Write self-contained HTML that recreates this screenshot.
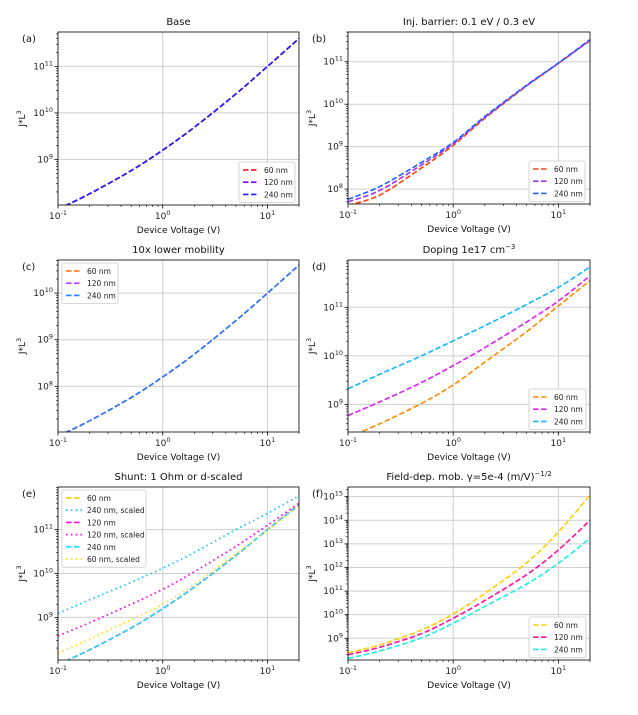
<!DOCTYPE html>
<html><head><meta charset="utf-8"><style>
body{margin:0;background:#fff;}
svg{display:block;font-family:"DejaVu Sans","Liberation Sans",sans-serif;}
</style></head><body>
<svg id="fig" width="638" height="715" viewBox="0 0 638 715" xmlns="http://www.w3.org/2000/svg"></svg>
<script>
const xVals=[0.1,0.2,0.5,1,2,5,10,20];
const seriesLabels3=["60 nm","120 nm","240 nm"];
// log10(J*L^3) per panel
const aSeries=[[7.93,8.26,8.76,9.2,9.69,10.41,11,11.6],[7.93,8.26,8.76,9.2,9.69,10.41,11,11.6],[7.93,8.26,8.76,9.2,9.69,10.41,11,11.6]];
const bSeries=[[7.62,7.86,8.5,9.03,9.67,10.43,10.96,11.5],[7.7,7.97,8.57,9.07,9.69,10.44,10.96,11.51],[7.76,8.06,8.63,9.1,9.71,10.45,10.97,11.52]];
const cSeries=[[6.93,7.26,7.76,8.2,8.69,9.41,10,10.6],[6.93,7.26,7.76,8.2,8.69,9.41,10,10.6],[6.93,7.26,7.76,8.2,8.69,9.41,10,10.6]];
const dSeries=[[8.32,8.6,9.02,9.4,9.87,10.5,11.03,11.55],[8.77,9.05,9.45,9.8,10.17,10.7,11.13,11.65],[9.32,9.62,10.0,10.31,10.62,11.06,11.41,11.83]];
const eLabels=["60 nm","240 nm, scaled","120 nm","120 nm, scaled","240 nm","60 nm, scaled"];
const eSeries=[[7.93,8.26,8.76,9.2,9.69,10.41,11,11.55],[9.09,9.4,9.8,10.12,10.48,11.0,11.37,11.77],[7.93,8.26,8.76,9.2,9.69,10.41,11,11.57],[8.58,8.88,9.3,9.64,10.04,10.62,11.1,11.6],[7.93,8.26,8.76,9.2,9.69,10.41,11,11.56],[8.19,8.5,8.95,9.3,9.75,10.45,10.98,11.55]];
const fSeries=[[8.39,8.72,9.35,10.03,10.9,12.2,13.5,15.07],[8.3,8.62,9.2,9.85,10.6,11.7,12.74,14.0],[8.15,8.46,9.02,9.64,10.35,11.3,12.18,13.24]];

const NS="http://www.w3.org/2000/svg";
const svg=document.getElementById('fig');
function mk(tag,attrs,parent){const e=document.createElementNS(NS,tag);for(const k in attrs)e.setAttribute(k,attrs[k]);(parent||svg).appendChild(e);return e;}

const panels=[
 {id:'a',L:58,R:299,T:32,B:205,ymin:8.02,ymax:11.74,title:'Base',data:aSeries,labels:seriesLabels3,colors:['#ff0000','#8000ff','#2020ff'],styles:['d','d','d'],leg:{x:239,y:162,w:56}},
 {id:'b',L:348,R:590,T:32,B:204,ymin:7.65,ymax:11.70,title:'Inj. barrier: 0.1 eV / 0.3 eV',data:bSeries,labels:seriesLabels3,colors:['#ff4010','#a030ff','#2060ff'],styles:['d','d','d'],leg:{x:529,y:161,w:56}},
 {id:'c',L:58,R:299,T:260,B:432,ymin:7.02,ymax:10.71,title:'10x lower mobility',data:cSeries,labels:seriesLabels3,colors:['#ff7010','#c040ff','#2080ff'],styles:['d','d','d'],leg:{x:62,y:263,w:56}},
 {id:'d',L:348,R:590,T:260,B:432,ymin:8.43,ymax:11.975,title:'Doping 1e17 cm',titleSup:'−3',data:dSeries,labels:seriesLabels3,colors:['#ff8c00','#e020ff','#10b8ff'],styles:['d','d','d'],leg:{x:529,y:389,w:57}},
 {id:'e',L:58,R:299,T:487,B:660,ymin:8.03,ymax:11.97,title:'Shunt: 1 Ohm or d-scaled',data:eSeries,labels:eLabels,colors:['#ffc000','#20c8ff','#ff10e0','#ff10e0','#20d8ff','#ffe020'],styles:['d','o','d','o','d','o'],leg:{x:62,y:490,w:84}},
 {id:'f',L:348,R:590,T:487,B:660,ymin:8.08,ymax:15.41,title:'Field-dep. mob. γ=5e-4 (m/V)',titleSup:'−1/2',data:fSeries,labels:seriesLabels3,colors:['#ffd000','#ff10a0','#20f0e0'],styles:['d','d','d'],leg:{x:529,y:617,w:57}}
];

function smoothPath(pts){
 let d='M'+pts[0][0].toFixed(1)+','+pts[0][1].toFixed(1);
 for(let i=0;i<pts.length-1;i++){
  const p0=pts[Math.max(0,i-1)],p1=pts[i],p2=pts[i+1],p3=pts[Math.min(pts.length-1,i+2)];
  const c1=[p1[0]+(p2[0]-p0[0])/6,p1[1]+(p2[1]-p0[1])/6];
  const c2=[p2[0]-(p3[0]-p1[0])/6,p2[1]-(p3[1]-p1[1])/6];
  d+='C'+c1[0].toFixed(1)+','+c1[1].toFixed(1)+' '+c2[0].toFixed(1)+','+c2[1].toFixed(1)+' '+p2[0].toFixed(1)+','+p2[1].toFixed(1);
 }
 return d;
}

panels.forEach((p,pi)=>{
 const g=mk('g',{});
 
 
 const xs=v=>p.L+(Math.log10(v)+1)/(Math.log10(20)+1)*(p.R-p.L);
 const xl=lv=>p.L+(lv+1)/(Math.log10(20)+1)*(p.R-p.L);
 const ys=lv=>p.B-(lv-p.ymin)/(p.ymax-p.ymin)*(p.B-p.T);
 const cid='clip'+p.id;
 const cp=mk('clipPath',{id:cid},g);mk('rect',{x:p.L,y:p.T,width:p.R-p.L,height:p.B-p.T},cp);
 [-1,0,1].forEach(d=>{const x=xl(d);const l=mk('line',{x1:x,x2:x,y1:p.T,y2:p.B,stroke:'#cfcfcf','stroke-width':1},g);});
 for(let d=Math.ceil(p.ymin);d<=Math.floor(p.ymax);d++){const y=ys(d);const l=mk('line',{x1:p.L,x2:p.R,y1:y,y2:y,stroke:'#cfcfcf','stroke-width':1},g);
  const t=mk('text',{x:p.L-5,y:y+3,'font-size':9,'text-anchor':'end',fill:'#222'},g);
  t.appendChild(document.createTextNode('10'));const s=mk('tspan',{dy:-4,'font-size':6.5},t);s.textContent=String(d);
  mk('line',{x1:p.L-3.5,x2:p.L,y1:y,y2:y,stroke:'#000','stroke-width':0.8},g);
 }
 for(let d=Math.floor(p.ymin);d<=Math.ceil(p.ymax);d++){for(let m=2;m<10;m++){const lv=d+Math.log10(m);if(lv<p.ymin||lv>p.ymax)continue;const y=ys(lv);mk('line',{x1:p.L-2,x2:p.L,y1:y,y2:y,stroke:'#000','stroke-width':0.6},g);}}
 [-1,0,1].forEach(d=>{const x=xl(d);mk('line',{x1:x,x2:x,y1:p.B,y2:p.B+3.5,stroke:'#000','stroke-width':0.8},g);
  const t=mk('text',{x:x,y:p.B+14,'font-size':9,'text-anchor':'middle',fill:'#222'},g);
  t.appendChild(document.createTextNode('10'));const s=mk('tspan',{dy:-4,'font-size':6.5},t);s.textContent=String(d);});
 for(let d=-1;d<=1;d++){for(let m=2;m<10;m++){const lv=d+Math.log10(m);if(lv>Math.log10(20)+1e-9)continue;const x=xl(lv);mk('line',{x1:x,x2:x,y1:p.B,y2:p.B+2,stroke:'#000','stroke-width':0.6},g);}}
 p.data.forEach((ser,si)=>{
  const pts=ser.map((v,i)=>[xs(xVals[i]),ys(v)]);
  const dot=p.styles[si]==='o';
  const path=mk('path',{d:smoothPath(pts),fill:'none',stroke:p.colors[si],'stroke-width':dot?1.8:1.6,'stroke-dasharray':dot?'1.6,3.2':'5.5,2.5','clip-path':'url(#'+cid+')'},g);
  
  
 });
 const fr=mk('rect',{x:p.L,y:p.T,width:p.R-p.L,height:p.B-p.T,fill:'none',stroke:'#000','stroke-width':0.8},g);
 
 const tt=mk('text',{x:(p.L+p.R)/2,y:p.T-7,'font-size':10,'text-anchor':'middle',fill:'#111'},g);
 
 tt.appendChild(document.createTextNode(p.title));
 if(p.titleSup){const s=mk('tspan',{dy:-4,'font-size':7},tt);s.textContent=p.titleSup;}
 const pl=mk('text',{x:p.L-36,y:p.T+10,'font-size':10,fill:'#111'},g);
 pl.textContent='('+p.id+')';
 const xlb=mk('text',{x:(p.L+p.R)/2,y:p.B+28,'font-size':9,'text-anchor':'middle',fill:'#111'},g);
 xlb.textContent='Device Voltage (V)';
 const yc=(p.T+p.B)/2;
 const ylb=mk('text',{x:p.L-33,y:yc,'font-size':9,'text-anchor':'middle',fill:'#111',transform:'rotate(-90 '+(p.L-33)+' '+yc+')'},g);
 
 ylb.appendChild(document.createTextNode('J*L'));const ys3=mk('tspan',{dy:-4,'font-size':6.5},ylb);ys3.textContent='3';
 const n=p.labels.length,lh=12.2;
 const lg=mk('g',{},g);
 mk('rect',{x:p.leg.x,y:p.leg.y,width:p.leg.w,height:n*lh+4,fill:'#fff','fill-opacity':0.85,stroke:'#ccc','stroke-width':0.8,rx:2},lg);
 p.labels.forEach((lab,si)=>{
  const yy=p.leg.y+8+si*lh;const dot=p.styles[si]==='o';
  const e=mk('g',{},lg);
  mk('line',{x1:p.leg.x+4,x2:p.leg.x+20,y1:yy,y2:yy,stroke:p.colors[si],'stroke-width':dot?1.8:1.6,'stroke-dasharray':dot?'1.6,3.2':'5.5,2.5'},e);
  const t=mk('text',{x:p.leg.x+25,y:yy+3,'font-size':7.5,fill:'#222'},e);t.textContent=lab;
 });
});
</script>
</body></html>
